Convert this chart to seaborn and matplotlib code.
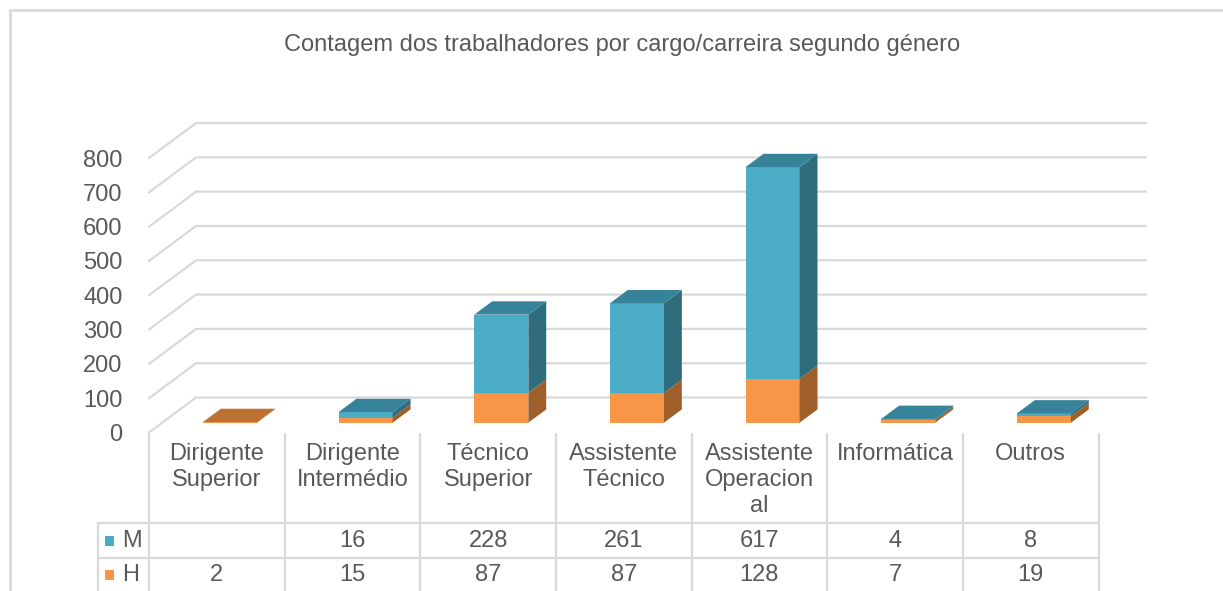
import numpy as np
import matplotlib
matplotlib.use('Agg')
import matplotlib.pyplot as plt
import seaborn as sns
from matplotlib.patches import Polygon, Rectangle
from matplotlib.lines import Line2D

# dados
categorias = ['Dirigente\nSuperior', 'Dirigente\nIntermédio', 'Técnico\nSuperior', 'Assistente\nTécnico',
              'Assistente\nOperacion\nal', 'Informática', 'Outros']
mulheres = [np.nan, 16, 228, 261, 617, 4, 8]   # M
homens = [2, 15, 87, 87, 128, 7, 19]           # H
yticks = [0, 100, 200, 300, 400, 500, 600, 700, 800]
titulo = 'Contagem dos trabalhadores por cargo/carreira segundo género'

sns.set_theme(style='white')
plt.rcParams['font.family'] = ['Liberation Sans', 'DejaVu Sans']

cinza = '#595959'
grelha = '#D9D9D9'
cores = {'H': ('#F79646', '#9E5F2B', '#BC7133'), 'M': ('#4BACC6', '#2F6C7C', '#37839A')}
fs = 17

W, H_PX = 1223, 591
fig = plt.figure(figsize=(W / 100, H_PX / 100), dpi=100)

# eixo principal (parede frontal 0 em y=432px, topo em 122px)
x_esq, x_dir = 149, 1146
y_base, y_topo = 432.5, 122
ax = fig.add_axes([x_esq / W, (H_PX - y_base) / H_PX, (x_dir - x_esq) / W, (y_base - y_topo) / H_PX])
ax.set_xlim(-0.5, 6.85)
ax.set_ylim(0, 905)
for s in ax.spines.values():
    s.set_visible(False)
ax.set_xticks([])
ax.set_yticks(yticks)
ax.set_yticklabels([str(v) for v in yticks], color=cinza, fontsize=fs)
ax.tick_params(axis='y', length=0, pad=19)
ax.patch.set_alpha(0)

# profundidade da "3D"
DX, DY = 0.347, 102
f_frente, f_prof = 0.28, 0.38
largura = 0.3985

# grelha: diagonal + parede de fundo
for v in yticks:
    ax.plot([-0.5, -0.5 + DX, 6.85], [v, v + DY, v + DY], color=grelha, lw=1.6, zorder=1, clip_on=False)

# barras empilhadas com faces de topo e lado
bdx, bdy = f_prof * DX, f_prof * DY
for i in range(len(categorias)):
    xl = i - largura / 2 + f_frente * DX
    xr = xl + largura
    base = f_frente * DY
    segs = [('H', homens[i]), ('M', mulheres[i])]
    segs = [(k, v) for k, v in segs if not np.isnan(v) and v > 0]
    for k, v in segs:
        frente, lado, topo = cores[k]
        ax.bar(xl, v, width=largura, bottom=base, align='edge', color=frente, lw=0, zorder=3)
        ax.add_patch(Polygon([(xr, base), (xr + bdx, base + bdy), (xr + bdx, base + v + bdy), (xr, base + v)],
                             closed=True, color=lado, lw=0, zorder=3))
        base += v
    k_top = segs[-1][0]
    ax.add_patch(Polygon([(xl, base), (xr, base), (xr + bdx, base + bdy), (xl + bdx, base + bdy)],
                         closed=True, color=cores[k_top][2], lw=0, zorder=3))

# tabela de dados
tx_esq = 98
ax2 = fig.add_axes([tx_esq / W, 0, (x_dir - tx_esq) / W, (H_PX - y_base) / H_PX])
ax2.set_xlim(-0.5 - (x_esq - tx_esq) / 135.6, 6.85)
ax2.set_ylim(591, 432.5)
ax2.axis('off')
x0 = ax2.get_xlim()[0]
for k in range(8):
    ax2.plot([k - 0.5, k - 0.5], [434, 591], color=grelha, lw=1.6, clip_on=False)
ax2.plot([x0, x0], [523, 591], color=grelha, lw=1.6, clip_on=False)
for yy in [523, 558]:
    ax2.plot([x0, 6.5], [yy, yy], color=grelha, lw=1.6, clip_on=False)

for i, cat in enumerate(categorias):
    ax2.text(i, 443, cat, ha='center', va='top', fontsize=fs, color=cinza, linespacing=1.25)
    m = mulheres[i]
    ax2.text(i, 541, '' if np.isnan(m) else str(int(m)), ha='center', va='center', fontsize=fs, color=cinza)
    ax2.text(i, 575, str(homens[i]), ha='center', va='center', fontsize=fs, color=cinza)

for yy, lab, c in [(541, 'M', cores['M'][0]), (575, 'H', cores['H'][0])]:
    ax2.add_patch(Rectangle((x0 + 0.05, yy - 5), 0.066, 10, color=c, lw=0, clip_on=False))
    ax2.text(x0 + 0.18, yy, lab, ha='left', va='center', fontsize=fs, color=cinza)

# titulo
fig.text(622 / W, 1 - 45 / H_PX, titulo, ha='center', va='center', fontsize=17, color=cinza)

# borda da área do gráfico
fig.add_artist(Line2D([10 / W, 10 / W], [0, 1 - 10 / H_PX], color=grelha, lw=2))
fig.add_artist(Line2D([10 / W, 1], [1 - 10 / H_PX, 1 - 10 / H_PX], color=grelha, lw=2))

fig.savefig('out.png', dpi=100)
